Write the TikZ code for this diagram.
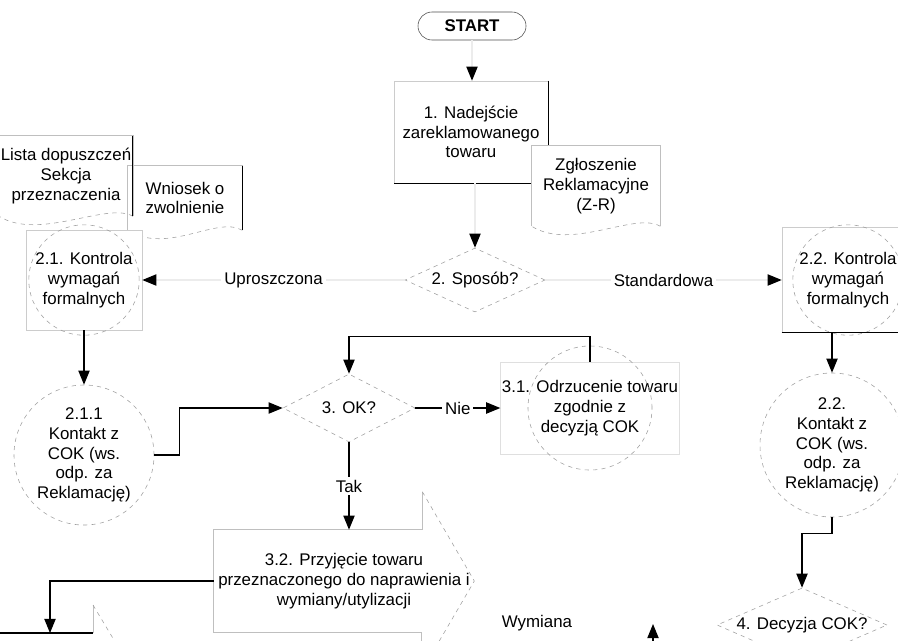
\documentclass[tikz,border=0pt]{standalone}
\usepackage{fontspec}
\setmainfont{Liberation Sans}
\usetikzlibrary{positioning,shapes,arrows.meta}

\begin{document}
\begin{tikzpicture}[x=0.025cm, y=-0.025cm,
    every node/.style={font=\fontsize{12}{14}\selectfont, align=center},
    term/.style={draw=black!70, rounded corners=0.35cm, minimum width=2.7cm, minimum height=0.7cm, font=\fontsize{12}{14}\selectfont\bfseries},
    procbox/.style={draw=gray!40, fill=white, inner sep=1pt},
    docbox/.style={fill=white, inner sep=1pt},
    docline/.style={draw=gray!50},
    ringline/.style={draw=gray!75, dashed},
    ring/.style={circle, ringline, inner sep=0pt},
    choice/.style={diamond, draw=gray!75, dashed, fill=white, inner sep=0pt, aspect=2},
    conn/.style={thick, -{Triangle[length=10pt,width=8pt]}},
    ghost/.style={draw=gray!15, thick, -{Triangle[length=10pt,width=8pt,color=black]}},
    lbl/.style={fill=white, inner sep=2pt}
]
    \useasboundingbox (0,0) rectangle (898,640);
    \clip (0,0) rectangle (898,640);

    % Start i nadejscie towaru
    \node[term] (start) at (472,26) {START};
    \node[procbox, minimum width=3.85cm, minimum height=2.55cm] (nad) at (471,132) {1. Nadejście\\zareklamowanego\\towaru};
    \draw[thick] (nad.north east) -- (nad.south east) -- (nad.south west);

    % Dokumenty
    \node[docbox, minimum width=3.0cm, minimum height=2cm] (lista) at (66,176) {Lista dopuszczeń\\Sekcja\\przeznaczenia};
    \node[docbox, minimum width=2.85cm, minimum height=1.6cm] (wniosek) at (185,198) {Wniosek o\\zwolnienie};
    \node[docbox, minimum width=3.2cm, minimum height=2cm] (zgl) at (596,186) {Zgłoszenie\\Reklamacyjne\\(Z-R)};
    \foreach \d in {lista, wniosek, zgl} {
        \draw[docline] (\d.south west) -- (\d.north west) -- (\d.north east) -- (\d.south east);
        \draw[ringline] (\d.south east) .. controls +(-25,-15) and +(40,25) .. (\d.south west);
    }
    \draw[thick] (lista.north east) -- (lista.south east);
    \draw[thick] (wniosek.north east) -- (wniosek.south east);

    % Decyzje
    \node[choice, minimum width=3.5cm, minimum height=1.6cm] (spos) at (475,280) {2. Sposób?};
    \node[choice, minimum width=3.3cm, minimum height=1.7cm] (ok) at (349,408) {3. OK?};
    \node[choice, aspect=2.3, minimum width=4.25cm, minimum height=1.85cm] (dec) at (802,625) {4. Decyzja COK?};

    % Sciezka uproszczona
    \node[procbox, minimum width=2.9cm, minimum height=2.5cm] (kf1) at (84,280) {2.1. Kontrola\\wymagań\\formalnych};
    \draw[ringline] (kf1.center) circle (1.38cm);
    \node[ring, minimum size=3.5cm] (kon1) at (84,455) {2.1.1\\Kontakt z\\COK (ws.\\odp. za\\Reklamację)};

    % Sciezka standardowa
    \node[procbox, minimum width=3.3cm, minimum height=2.63cm] (kf2) at (848,280) {2.2. Kontrola\\wymagań\\formalnych};
    \draw[ringline] (kf2.center) circle (1.38cm);
    \draw[thick] (kf2.south west) -- (kf2.south east);
    \node[ring, minimum size=3.6cm] (kon2) at (832,445) {2.2.\\Kontakt z\\COK (ws.\\odp. za\\Reklamację)};

    % Odrzucenie i przyjecie
    \node[procbox, draw=gray!25, minimum width=3.75cm, minimum height=2.3cm] (odr) at (590,408) {3.1. Odrzucenie towaru\\zgodnie z\\decyzją COK};
    \draw[ringline] (odr.center) circle (1.55cm);
    \node[minimum width=6.5cm, minimum height=2.55cm, inner sep=0pt] (przyj) at (344,581) {3.2. Przyjęcie towaru\\przeznaczonego do naprawienia i\\wymiany/utylizacji};
    \draw[docline] (przyj.north east) ++(-52,0) -- (przyj.north west) -- (przyj.south west) -- ++(208,0) -- ++(0,38);
    \draw[docline] (przyj.north east) ++(-52,0) -- ++(0,-38);
    \draw[ringline] (przyj.north east) ++(-52,-38) -- (przyj.east) -- ++(-52,89);

    % Ksztalt na dole po lewej
    \coordinate (wym) at (50,633);
    \draw[docline] (93,633) -- (93,605);
    \draw[ringline] (93,605) -- (150,700);
    \draw[thick] (-10,633) -- (93,633);

    % Polaczenia
    \draw[ghost] (start.south) -- (start.south |- nad.north);
    \draw[ghost] (spos.north |- nad.south) -- (spos.north);
    \draw[ghost] (spos.west) -- node[lbl] {Uproszczona} (kf1.east);
    \draw[ghost] (spos.east) -- node[lbl] {Standardowa} (kf2.west);
    \draw[conn] (kf1.south) -- (kon1.north);
    \draw[conn] (kon1.east) -- ++(25,0) |- (ok.west);
    \draw[conn] (ok.east) -- node[lbl] {Nie} (odr.west);
    \draw[conn] (odr.north) -- ++(0,-25) -| (ok.north);
    \draw[conn] (ok.south) -- node[lbl] {Tak} (ok.south |- przyj.north);
    \draw[conn] (przyj.west) -| (wym);
    \draw[conn] (kon2.north |- kf2.south) -- (kon2.north);
    \draw[conn] (kon2.south) -- ++(0,16) -| (dec.north);

    % Wymiana
    \node (wymL) at (537,623) {Wymiana};
    \coordinate (dolB) at (653,680);
    \coordinate (gorB) at (653,624);
    \draw[conn] (dolB) -- (gorB);
\end{tikzpicture}
\end{document}
